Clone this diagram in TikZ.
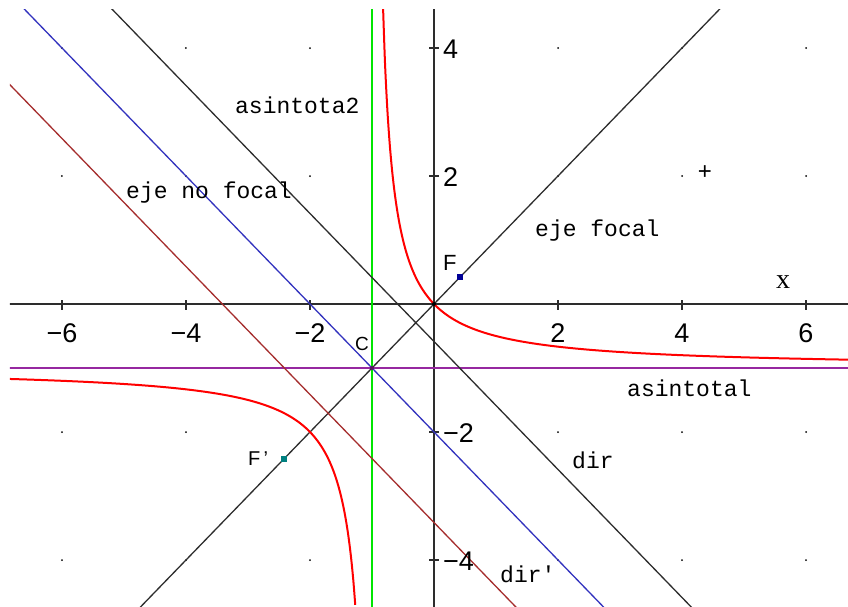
\documentclass[tikz,border=0pt]{standalone}
\usepackage{fontspec}
\usetikzlibrary{calc}
\setmainfont{Liberation Sans}
\newfontfamily\monof{Liberation Mono}
\newfontfamily\seriff{Liberation Serif}
\definecolor{hypred}{RGB}{255,0,0}
\definecolor{asgreen}{RGB}{0,230,0}
\definecolor{aspurple}{RGB}{150,40,160}
\definecolor{nfblue}{RGB}{50,50,190}
\definecolor{dbrown}{RGB}{165,45,45}
\definecolor{dgrey}{RGB}{45,45,45}
\definecolor{fnavy}{RGB}{0,0,150}
\definecolor{fteal}{RGB}{0,128,128}
\begin{document}
\begin{tikzpicture}[x=62pt,y=64pt,
  lab/.style={font=\monof\fontsize{23}{23}\selectfont, anchor=base west, inner sep=0pt},
  ticklab/.style={font=\fontsize{27}{27}\selectfont, inner sep=0pt},
  ptlab/.style={font=\fontsize{19}{19}\selectfont, anchor=base west, inner sep=0pt},
  thinline/.style={line width=1.3pt},
  axisline/.style={line width=1.8pt, dgrey},
  marker/.style={minimum size=6pt, inner sep=0pt, draw=none}]
\useasboundingbox (-7,4.75) rectangle (6.6774,-4.71875);
\fill[white] (-7,4.75) rectangle (6.6774,-4.71875);
\begin{scope}
\clip (-6.8387,4.59375) rectangle (6.6774,-4.71875);
% grid dots
\foreach \i in {-6,-4,-2,2,4,6}
  \foreach \j in {-4,-2,2,4}
    \fill[black] (\i,\j) circle (1pt);
% axes
\draw[axisline] (-7,0) -- (7,0);
\draw[axisline] (0,-5) -- (0,5);
\foreach \t in {-6,-4,-2,2,4,6}
  \draw[line width=1.4pt,dgrey] (\t,0) ++(0,4pt) -- ++(0,-10pt);
\foreach \t in {-4,-2,2,4}
  \draw[line width=1.4pt,dgrey] (0,\t) ++(-5pt,0) -- ++(10pt,0);
% asymptotes
\draw[line width=2pt, asgreen] (-1,-5) -- (-1,5);
\draw[line width=2pt, aspurple] (-7,-1) -- (7,-1);
% axes of the hyperbola and directrices
\draw[thinline, dgrey] (-5,-5) -- (5,5);
\draw[thinline, nfblue] (-7,5) -- (3,-5);
\draw[thinline, dgrey] (-6,5.4142) -- (5,-5.5858);
\draw[thinline, dbrown] (-7,3.5858) -- (2,-5.4142);
% hyperbola
\draw[line width=2pt, hypred, smooth, samples=200, domain=-0.83:6.8] plot (\x,{1/(\x+1)-1});
\draw[line width=2pt, hypred, smooth, samples=200, domain=-7:-1.27] plot (\x,{1/(\x+1)-1});
% points
\coordinate (O) at (0,0);
\coordinate (C) at (-1,-1);
\fill[black] (O) circle (2pt);
\fill[aspurple!60!black] (C) circle (2pt);
\node[marker, fill=fnavy] (F) at (0.4142,0.4142) {};
\node[marker, fill=fteal] (Fp) at (-2.4142,-2.4142) {};
\end{scope}
% tick labels
\foreach \t/\s in {-6/{−6},-4/{−4},-2/{−2},2/2,4/4,6/6}
  \node[ticklab, anchor=base] at (\t,-0.594) {\s};
\foreach \t/\s in {4/4,2/2,-2/{−2},-4/{−4}}
  \node[ticklab, anchor=base west] at ($(0,\t)+(9pt,-10pt)$) {\s};
% labels
\node[lab] (la2) at (-3.2097,2.984) {asintota2};
\node[lab] (lnf) at (-4.968,1.656) {eje no focal};
\node[lab] (lf) at (1.629,1.0625) {eje focal};
\node[lab] (la1) at (3.113,-1.453) {asintotal};
\node[lab] (ld) at (2.226,-2.578) {dir};
\node[lab] (ldp) at (1.065,-4.344) {dir'};
\node[ptlab, font=\fontsize{22}{22}\selectfont] (lF) at (0.145,0.531) {F};
\node[ptlab] (lC) at (-1.274,-0.719) {C};
\node[ptlab, font=\fontsize{20}{20}\selectfont] (lFp) at (-3.0,-2.516) {F\,'};
\node[font=\seriff\fontsize{28}{28}\selectfont, anchor=base west, inner sep=0pt] (lx) at (5.516,0.25) {x};
\node[font=\fontsize{24}{24}\selectfont, inner sep=0pt] (plus) at (4.371,2.047) {+};
\end{tikzpicture}
\end{document}
